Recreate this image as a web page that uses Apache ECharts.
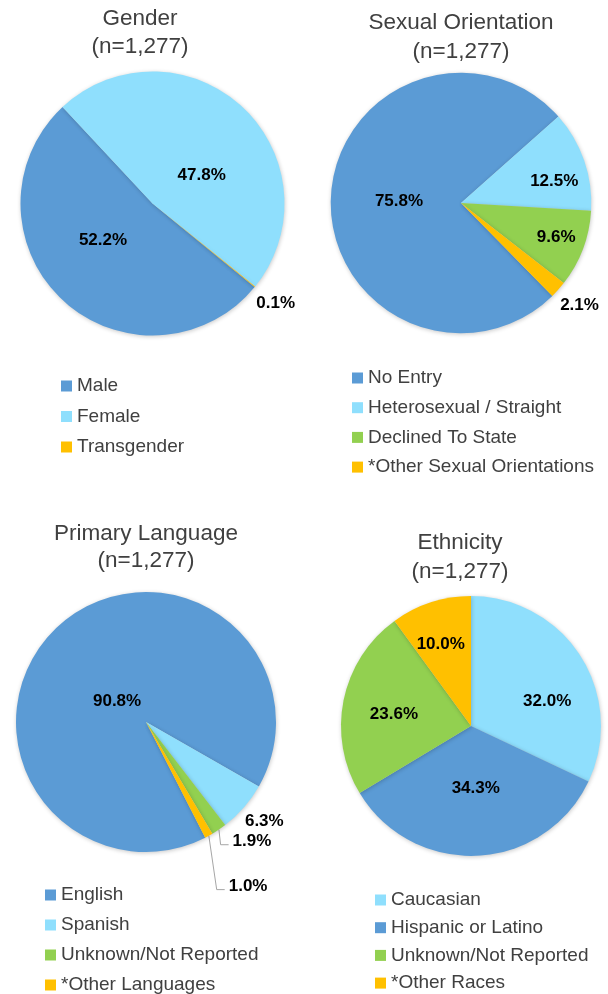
<!DOCTYPE html>
<html><head><meta charset="utf-8">
<script src="https://cdn.jsdelivr.net/npm/echarts@6/dist/echarts.min.js"></script>
<style>html,body{margin:0;padding:0;background:#fff}#c{width:608px;height:994px}</style>
</head><body><div id="c"></div>
<script>
// ---- data ----
const genderCats = ['Male', 'Female', 'Transgender'];
const genderVals = [52.2, 47.8, 0.1];
const orientationCats = ['No Entry', 'Heterosexual / Straight', 'Declined To State', '*Other Sexual Orientations'];
const orientationVals = [75.8, 12.5, 9.6, 2.1];
const languageCats = ['English', 'Spanish', 'Unknown/Not Reported', '*Other Languages'];
const languageVals = [90.8, 6.3, 1.9, 1.0];
const ethnicityCats = ['Caucasian', 'Hispanic or Latino', 'Unknown/Not Reported', '*Other Races'];
const ethnicityVals = [32.0, 34.3, 23.6, 10.0];
const sampleSize = '1,277';

// ---- style / layout ----
const FONT = '"Liberation Sans", Arial, sans-serif';
const TXT = '#404040';
const DARK = '#5B9BD5', LIGHT = '#8FDFFD', GREEN = '#92D050', ORANGE = '#FFC000';

const panels = [
  { title: 'Gender', cats: genderCats, vals: genderVals, colors: [DARK, LIGHT, ORANGE],
    center: [152.5, 203.5], r: 132, start: 320.7,
    place: [[0.466, -10.4], [0.43, -17.1], [1.20, 0.2]],
    outside: [false, false, true], line: [false, false, false],
    titleX: 140, titleTop: 5, titleLH: 28, legendX: 61, legendTop: 376.5, legendGap: 11.5 },
  { title: 'Sexual Orientation', cats: orientationCats, vals: orientationVals, colors: [DARK, LIGHT, GREEN, ORANGE],
    center: [461, 203], r: 130.3, start: 314.5,
    place: [[0.476, 0.7], [0.735, -6], [0.777, 0.8], [1.2, 1]],
    outside: [false, false, false, true], line: [false, false, false, false],
    titleX: 461, titleTop: 8, titleLH: 29, legendX: 352, legendTop: 368.5, legendGap: 10.7 },
  { title: 'Primary Language', cats: languageCats, vals: languageVals, colors: [DARK, LIGHT, GREEN, ORANGE],
    center: [146, 722], r: 130, start: 297.1,
    place: [[0.275, 10.3], [1.19, 1], [1.23, 7.4], [1.49, 2.9]],
    outside: [false, true, true, true], line: [false, false, true, true],
    titleX: 146, titleTop: 520, titleLH: 27, legendX: 45, legendTop: 885.5, legendGap: 11 },
  { title: 'Ethnicity', cats: ethnicityCats, vals: ethnicityVals, colors: [LIGHT, DARK, GREEN, ORANGE],
    center: [471, 726], r: 130, start: 90,
    place: [[0.615, -14.6], [0.48, 1.5], [0.60, 2.7], [0.67, 2.3]],
    outside: [false, false, false, false], line: [false, false, false, false],
    titleX: 460, titleTop: 528, titleLH: 29, legendX: 375, legendTop: 890.5, legendGap: 8.7 }
];

function makeLayout(cfg) {
  return function (p) {
    const vals = cfg.vals;
    const total = vals.reduce((a, b) => a + b, 0);
    let before = 0;
    for (let i = 0; i < p.dataIndex; i++) before += vals[i];
    const mid = cfg.start - (before + vals[p.dataIndex] / 2) / total * 360;
    const pl = cfg.place[p.dataIndex];
    const a = (mid + pl[1]) * Math.PI / 180;
    const x = cfg.center[0] + pl[0] * cfg.r * Math.cos(a);
    const y = cfg.center[1] - pl[0] * cfg.r * Math.sin(a);
    const res = { x: x, y: y, align: 'center', verticalAlign: 'middle' };
    if (cfg.line[p.dataIndex]) {
      const m = mid * Math.PI / 180;
      const ex = cfg.center[0] + cfg.r * Math.cos(m);
      const ey = cfg.center[1] - cfg.r * Math.sin(m);
      const left = x - p.labelRect.width / 2;
      res.labelLinePoints = [[ex, ey], [left - 12, y + 3], [left - 4, y + 3]];
    }
    return res;
  };
}

const option = {
  animation: false,
  backgroundColor: '#fff',
  title: panels.map(p => ({
    text: p.title + '\n(n=' + sampleSize + ')',
    left: p.titleX, top: p.titleTop, textAlign: 'center', padding: 0,
    textStyle: { fontFamily: FONT, fontSize: 22.5, fontWeight: 'normal', color: TXT, lineHeight: p.titleLH }
  })),
  legend: panels.map((p, i) => ({
    data: p.cats, orient: 'vertical', left: p.legendX, top: p.legendTop, padding: 0,
    height: 140,
    itemGap: p.legendGap, itemWidth: 11, itemHeight: 11, icon: 'rect', selectedMode: false,
    seriesIndex: i,
    textStyle: { fontFamily: FONT, fontSize: 19, color: TXT }
  })),
  series: panels.map(p => ({
    type: 'pie',
    center: p.center, radius: p.r, startAngle: p.start, clockwise: true,
    avoidLabelOverlap: false, silent: true,
    emphasis: { disabled: true },
    label: { show: true, position: 'inside', fontFamily: FONT, fontSize: 17, fontWeight: 'bold',
      color: '#000', textBorderWidth: 0,
      formatter: d => d.value.toFixed(1) + '%' },
    labelLine: { show: false },
    labelLayout: makeLayout(p),
    data: p.cats.map((n, j) => ({
      name: n, value: p.vals[j],
      itemStyle: { color: p.colors[j], borderWidth: 0,
        shadowBlur: 4, shadowColor: 'rgba(0,0,0,0.22)', shadowOffsetX: 0.5, shadowOffsetY: 1 },
      label: { position: p.outside[j] ? 'outside' : 'inside' },
      labelLine: { show: p.line[j], length: 5, length2: 5, lineStyle: { color: '#A6A6A6', width: 1 } }
    }))
  }))
};

const chart = echarts.init(document.getElementById('c'), null, { renderer: 'canvas' });
chart.setOption(option);
</script>
</body></html>
